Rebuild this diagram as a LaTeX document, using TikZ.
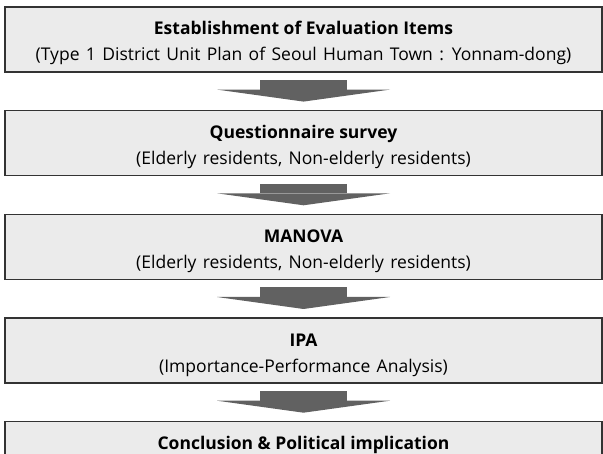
\documentclass[tikz,border=0pt]{standalone}
\usepackage{fontspec}
\setmainfont{Open Sans}
\newfontfamily\widefont{Open Sans}[WordSpace=1.4]
\usetikzlibrary{positioning,arrows.meta}

\begin{document}
\begin{tikzpicture}[x=1pt,y=1pt,node distance=37.5pt,
  main node/.style={rectangle,draw=black!80,fill=black!8,line width=1.2pt,
    minimum width=597pt,minimum height=65pt,inner sep=0pt,align=center,
    text height=43pt,text depth=0pt,
    font=\fontsize{17.5}{26}\selectfont},
  flow/.style={line width=87pt,color=black!62,
    -{Triangle[width=173pt,length=12pt,line width=0pt]},
    shorten <=7.5pt,shorten >=8.5pt}]

  \useasboundingbox (0,0) rectangle (603,-454);
  \clip (0,0) rectangle (603,-454);

  \node[main node] (ITEMS) at (303.5,-39.5)
    {\textbf{Establishment of Evaluation Items}\\{\widefont(Type 1 District Unit Plan of Seoul Human Town : Yonnam-dong)}};
  \node[main node] (SURVEY) [below=of ITEMS]
    {\textbf{Questionnaire survey}\\{\widefont(Elderly residents, Non-elderly residents)}};
  \node[main node] (MANOVA) [below=of SURVEY]
    {\textbf{MANOVA}\\{\widefont(Elderly residents, Non-elderly residents)}};
  \node[main node] (IPA) [below=of MANOVA]
    {\textbf{IPA}\\{\widefont(Importance-Performance Analysis)}};
  \node[main node] (CONCL) [below=of IPA]
    {\textbf{Conclusion \& Political implication}\\\strut};

  \path[flow]
    (ITEMS) edge (SURVEY)
    (SURVEY) edge (MANOVA)
    (MANOVA) edge (IPA)
    (IPA) edge (CONCL)
    ;
\end{tikzpicture}
\end{document}
